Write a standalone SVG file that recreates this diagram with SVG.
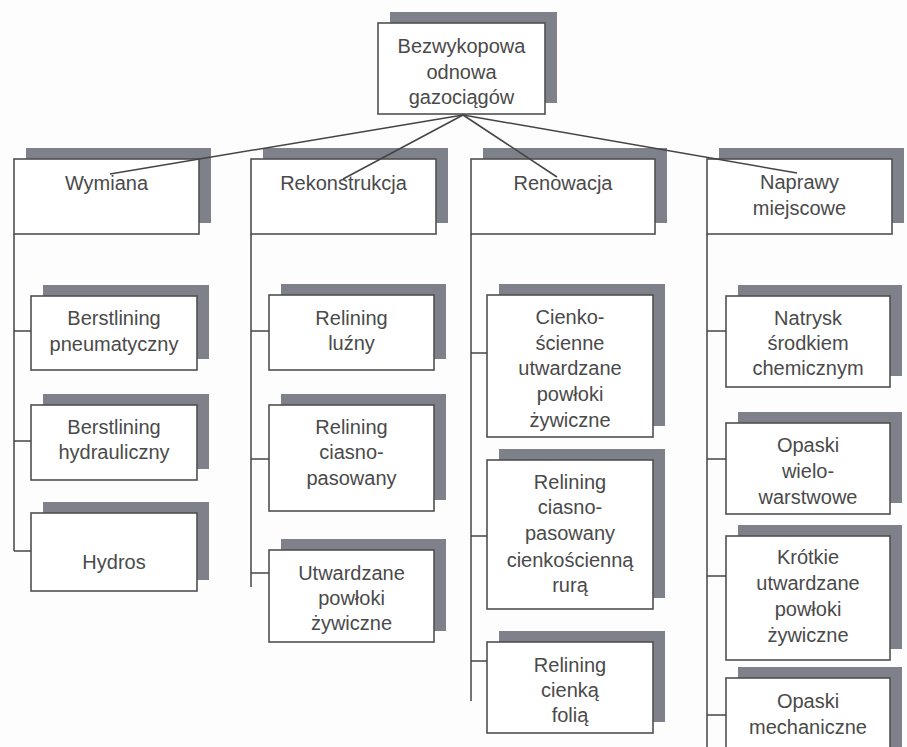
<svg xmlns="http://www.w3.org/2000/svg" width="907" height="747" viewBox="0 0 907 747">
<defs>
<style>
.sh{fill:#7e8189;stroke:none}
.bx{fill:#ffffff;stroke:#505050;stroke-width:1.6}
.t{font-family:"Liberation Sans",Arial,sans-serif;font-size:20px;fill:#4a4a4a;text-anchor:middle}
.c{stroke:#444;stroke-width:1.5;fill:none}
</style>
</defs>
<rect x="0" y="0" width="907" height="747" fill="#fdfdfd"/>

<g id="root">
<rect class="sh" x="390" y="12" width="167" height="91"/>
<rect class="bx" x="378" y="23" width="167" height="91"/>
<text class="t" x="461.5" y="53">Bezwykopowa</text>
<text class="t" x="461.5" y="79">odnowa</text>
<text class="t" x="461.5" y="104">gazociągów</text>
</g>

<g id="wymiana">
<rect class="sh" x="26" y="148" width="185" height="75"/>
<rect class="bx" x="14" y="159" width="185" height="75"/>
<text class="t" x="106.5" y="190">Wymiana</text>
</g>
<g id="rekonstrukcja">
<rect class="sh" x="263" y="148" width="185" height="75"/>
<rect class="bx" x="251" y="159" width="185" height="75"/>
<text class="t" x="343.5" y="190">Rekonstrukcja</text>
</g>
<g id="renowacja">
<rect class="sh" x="483" y="148" width="184" height="75"/>
<rect class="bx" x="471" y="159" width="184" height="75"/>
<text class="t" x="563" y="190">Renowacja</text>
</g>
<g id="naprawy">
<rect class="sh" x="719" y="148" width="185" height="75"/>
<rect class="bx" x="707" y="159" width="185" height="75"/>
<text class="t" x="799.5" y="189">Naprawy</text>
<text class="t" x="799.5" y="215">miejscowe</text>
</g>

<g id="berstlining-pneumatyczny">
<rect class="sh" x="43" y="285" width="166" height="74"/>
<rect class="bx" x="31" y="296" width="166" height="74"/>
<text class="t" x="114" y="325">Berstlining</text>
<text class="t" x="114" y="351">pneumatyczny</text>
</g>
<g id="berstlining-hydrauliczny">
<rect class="sh" x="43" y="394" width="166" height="75"/>
<rect class="bx" x="31" y="405" width="166" height="75"/>
<text class="t" x="114" y="434">Berstlining</text>
<text class="t" x="114" y="459">hydrauliczny</text>
</g>
<g id="hydros">
<rect class="sh" x="43" y="502" width="166" height="78"/>
<rect class="bx" x="31" y="513" width="166" height="78"/>
<text class="t" x="114" y="569">Hydros</text>
</g>

<g id="relining-luzny">
<rect class="sh" x="281" y="284" width="165" height="75"/>
<rect class="bx" x="269" y="295" width="165" height="75"/>
<text class="t" x="351.5" y="325">Relining</text>
<text class="t" x="351.5" y="350">luźny</text>
</g>
<g id="relining-ciasno">
<rect class="sh" x="281" y="394" width="165" height="106"/>
<rect class="bx" x="269" y="405" width="165" height="106"/>
<text class="t" x="351.5" y="434">Relining</text>
<text class="t" x="351.5" y="459">ciasno-</text>
<text class="t" x="351.5" y="485">pasowany</text>
</g>
<g id="utwardzane-powloki">
<rect class="sh" x="281" y="539" width="165" height="92"/>
<rect class="bx" x="269" y="550" width="165" height="92"/>
<text class="t" x="351.5" y="580">Utwardzane</text>
<text class="t" x="351.5" y="605">powłoki</text>
<text class="t" x="351.5" y="630">żywiczne</text>
</g>

<g id="cienkoscienne">
<rect class="sh" x="499" y="284" width="166" height="142"/>
<rect class="bx" x="487" y="295" width="166" height="142"/>
<text class="t" x="570" y="324">Cienko-</text>
<text class="t" x="570" y="350">ścienne</text>
<text class="t" x="570" y="375">utwardzane</text>
<text class="t" x="570" y="401">powłoki</text>
<text class="t" x="570" y="427">żywiczne</text>
</g>
<g id="relining-cienkoscienna">
<rect class="sh" x="499" y="449" width="166" height="149"/>
<rect class="bx" x="487" y="460" width="166" height="149"/>
<text class="t" x="570" y="489">Relining</text>
<text class="t" x="570" y="514">ciasno-</text>
<text class="t" x="570" y="540">pasowany</text>
<text class="t" x="570" y="567">cienkościenną</text>
<text class="t" x="570" y="592">rurą</text>
</g>
<g id="relining-folia">
<rect class="sh" x="499" y="631" width="166" height="91"/>
<rect class="bx" x="487" y="642" width="166" height="91"/>
<text class="t" x="570" y="672">Relining</text>
<text class="t" x="570" y="697">cienką</text>
<text class="t" x="570" y="722">folią</text>
</g>

<g id="natrysk">
<rect class="sh" x="738" y="285" width="164" height="91"/>
<rect class="bx" x="726" y="296" width="164" height="91"/>
<text class="t" x="808" y="325">Natrysk</text>
<text class="t" x="808" y="350">środkiem</text>
<text class="t" x="808" y="375">chemicznym</text>
</g>
<g id="opaski-wielowarstwowe">
<rect class="sh" x="738" y="412" width="164" height="91"/>
<rect class="bx" x="726" y="423" width="164" height="91"/>
<text class="t" x="808" y="452">Opaski</text>
<text class="t" x="808" y="478">wielo-</text>
<text class="t" x="808" y="504">warstwowe</text>
</g>
<g id="krotkie">
<rect class="sh" x="738" y="525" width="164" height="124"/>
<rect class="bx" x="726" y="536" width="164" height="124"/>
<text class="t" x="808" y="564">Krótkie</text>
<text class="t" x="808" y="590">utwardzane</text>
<text class="t" x="808" y="616">powłoki</text>
<text class="t" x="808" y="642">żywiczne</text>
</g>
<g id="opaski-mechaniczne">
<rect class="sh" x="738" y="667" width="164" height="90"/>
<rect class="bx" x="726" y="678" width="164" height="90"/>
<text class="t" x="808" y="708">Opaski</text>
<text class="t" x="808" y="734">mechaniczne</text>
</g>

<g id="connectors">
<line class="c" x1="463" y1="115" x2="110" y2="174"/>
<line class="c" x1="463" y1="115" x2="343" y2="179"/>
<line class="c" x1="463" y1="115" x2="557" y2="177"/>
<line class="c" x1="463" y1="115" x2="797" y2="173"/>

<line class="c" x1="14" y1="234" x2="14" y2="551"/>
<line class="c" x1="14" y1="331" x2="31" y2="331"/>
<line class="c" x1="14" y1="441" x2="31" y2="441"/>
<line class="c" x1="14" y1="551" x2="31" y2="551"/>

<line class="c" x1="251" y1="234" x2="251" y2="587"/>
<line class="c" x1="251" y1="331" x2="269" y2="331"/>
<line class="c" x1="251" y1="459" x2="269" y2="459"/>
<line class="c" x1="251" y1="573" x2="269" y2="573"/>

<line class="c" x1="471" y1="234" x2="471" y2="701"/>
<line class="c" x1="471" y1="353" x2="487" y2="353"/>
<line class="c" x1="471" y1="536" x2="487" y2="536"/>
<line class="c" x1="471" y1="661" x2="487" y2="661"/>

<line class="c" x1="707" y1="234" x2="707" y2="747"/>
<line class="c" x1="707" y1="331" x2="726" y2="331"/>
<line class="c" x1="707" y1="459" x2="726" y2="459"/>
<line class="c" x1="707" y1="576" x2="726" y2="576"/>
<line class="c" x1="707" y1="715" x2="726" y2="715"/>
</g>
</svg>
